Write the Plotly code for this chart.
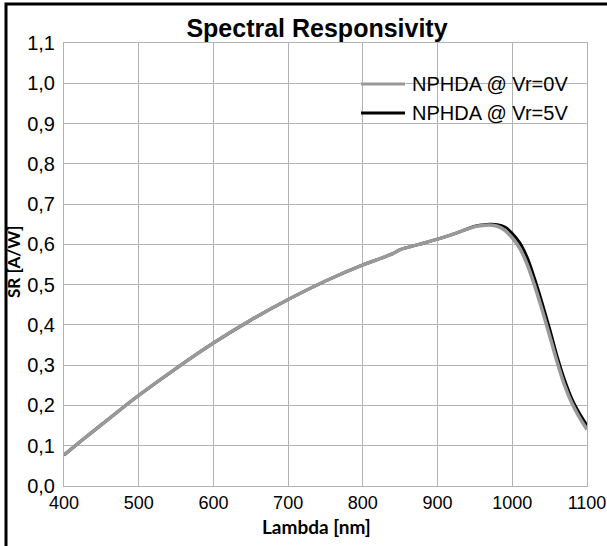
import plotly.graph_objects as go

# Wavelength grid (nm)
wavelength = [400, 425, 450, 475, 500, 550, 600, 650, 700, 750, 800, 825, 840,
              850, 875, 900, 925, 950, 960, 970, 980, 990, 1000, 1010, 1020,
              1030, 1040, 1050, 1060, 1070, 1080, 1090, 1100]

# Responsivity (A/W) at Vr = 0 V
sr_0v = [0.077, 0.115, 0.152, 0.189, 0.225, 0.292, 0.355, 0.412, 0.463, 0.509,
         0.549, 0.566, 0.577, 0.587, 0.600, 0.613, 0.628, 0.644, 0.647, 0.648,
         0.645, 0.635, 0.616, 0.590, 0.550, 0.497, 0.437, 0.373, 0.308, 0.250,
         0.205, 0.170, 0.140]

# Responsivity (A/W) at Vr = 5 V
sr_5v = [0.077, 0.115, 0.152, 0.189, 0.225, 0.292, 0.355, 0.412, 0.463, 0.509,
         0.549, 0.566, 0.577, 0.587, 0.600, 0.613, 0.628, 0.645, 0.648, 0.650,
         0.649, 0.643, 0.627, 0.604, 0.567, 0.514, 0.454, 0.390, 0.322, 0.263,
         0.215, 0.180, 0.150]

y_ticks = [0.0, 0.1, 0.2, 0.3, 0.4, 0.5, 0.6, 0.7, 0.8, 0.9, 1.0, 1.1]
y_labels = ["0,0", "0,1", "0,2", "0,3", "0,4", "0,5", "0,6", "0,7", "0,8", "0,9", "1,0", "1,1"]
x_ticks = [400, 500, 600, 700, 800, 900, 1000, 1100]

SANS = "Liberation Sans, Arial, sans-serif"

fig = go.Figure()
fig.add_trace(go.Scatter(x=wavelength, y=sr_5v, mode="lines", name="NPHDA @ Vr=5V",
                         line=dict(color="#000000", width=3, shape="spline", smoothing=0.6),
                         showlegend=False))
fig.add_trace(go.Scatter(x=wavelength, y=sr_0v, mode="lines", name="NPHDA @ Vr=0V",
                         line=dict(color="#999999", width=3.5, shape="spline", smoothing=0.6),
                         showlegend=False))

# legend drawn manually to match layout
leg_font = dict(family=SANS, size=20, color="#000000")
for i, (name, col) in enumerate([("NPHDA @ Vr=0V", "#999999"), ("NPHDA @ Vr=5V", "#000000")]):
    yp = (486 - 84 - i * 29) / 443
    fig.add_shape(type="line", xref="paper", yref="paper",
                  x0=(361 - 64) / 523, x1=(405 - 64) / 523, y0=yp, y1=yp,
                  line=dict(color=col, width=3))
    fig.add_annotation(xref="paper", yref="paper", x=(410 - 64) / 523, y=yp,
                       text=name, showarrow=False, xanchor="left", yanchor="middle",
                       font=leg_font)

# axis titles
fig.add_annotation(xref="paper", yref="paper", x=(316 - 64) / 523, y=(486 - 526) / 443,
                   text="<b>Lambda [nm]</b>", showarrow=False, xanchor="center",
                   yanchor="middle", font=dict(family="Lato, sans-serif", size=19, color="#000000"))
fig.add_annotation(xref="paper", yref="paper", x=(13 - 64) / 523, y=(486 - 262) / 443,
                   text="<b>SR [A/W]</b>", showarrow=False, xanchor="center", textangle=-90,
                   yanchor="middle", font=dict(family="Lato, sans-serif", size=17, color="#000000"))

# black frame (only top and left edges fall inside the page)
fig.add_shape(type="rect", xref="paper", yref="paper",
              x0=(6 - 64) / 523, x1=(640 - 64) / 523,
              y0=(486 - 4) / 443, y1=(486 - 580) / 443,
              line=dict(color="#000000", width=3), fillcolor="rgba(0,0,0,0)", layer="above")

fig.update_layout(
    width=607, height=546,
    margin=dict(l=64, r=20, t=43, b=60, autoexpand=False),
    paper_bgcolor="#ffffff", plot_bgcolor="#ffffff",
    title=dict(text="<b>Spectral Responsivity</b>", x=317 / 607, xanchor="center",
               y=1 - 28 / 546, yanchor="middle",
               font=dict(family=SANS, size=25, color="#000000")),
    xaxis=dict(range=[400, 1100], tickvals=x_ticks, ticks="", showgrid=True,
               gridcolor="#b3b3b3", gridwidth=1, showline=True, linecolor="#b3b3b3",
               linewidth=1, mirror=True, zeroline=False,
               tickfont=dict(family=SANS, size=18, color="#000000"),
               ticklabeloverflow="allow", automargin=False),
    yaxis=dict(range=[0, 1.1], tickvals=y_ticks, ticktext=y_labels, ticks="",
               showgrid=True, gridcolor="#b3b3b3", gridwidth=1, showline=True,
               linecolor="#b3b3b3", linewidth=1, mirror=True, zeroline=False,
               tickfont=dict(family=SANS, size=20, color="#000000"),
               ticklabelstandoff=4, automargin=False),
)

fig.write_html("out.html", config={"displayModeBar": False},
               post_script="document.body.style.margin='0';document.body.style.overflow='hidden';")
